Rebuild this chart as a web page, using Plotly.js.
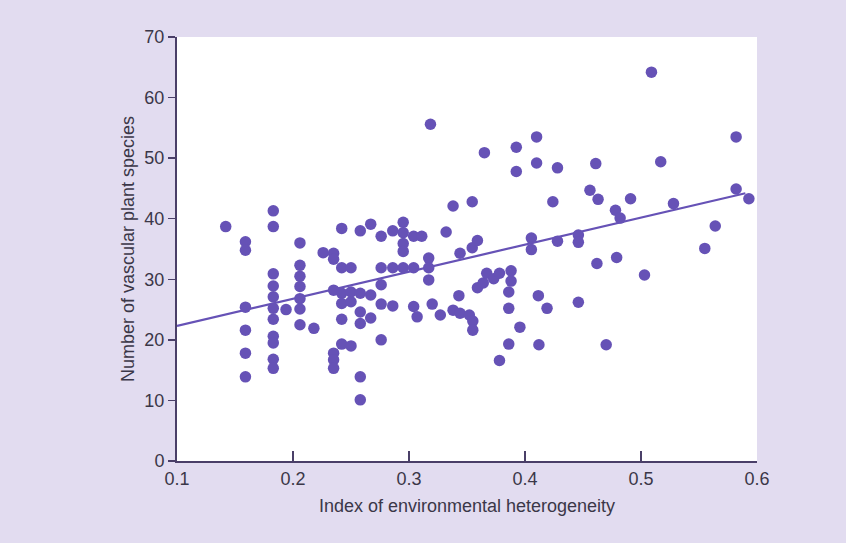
<!DOCTYPE html>
<html>
<head>
<meta charset="utf-8">
<script src="https://cdn.plot.ly/plotly-3.0.1.min.js"></script>
<style>
html,body{margin:0;padding:0;background:#e2dcf0;}
#chart{width:846px;height:543px;}
</style>
</head>
<body>
<div id="chart"></div>
<script>
// Index of environmental heterogeneity (x) and number of vascular plant species (y)
const heterogeneity = [
  0.142,
  0.159,0.159,0.159,0.159,0.159,0.159,
  0.183,0.183,0.183,0.183,0.183,0.183,0.183,0.183,0.183,0.183,0.183,
  0.194,
  0.206,0.206,0.206,0.206,0.206,0.206,0.206,
  0.218,
  0.226,
  0.235,0.235,0.235,0.235,0.235,0.235,
  0.242,0.242,0.242,0.242,0.242,0.242,
  0.250,0.250,0.250,0.250,
  0.258,0.258,0.258,0.258,0.258,0.258,
  0.267,0.267,0.267,
  0.276,0.276,0.276,0.276,0.276,
  0.286,0.286,0.286,
  0.295,0.295,0.295,0.295,0.295,
  0.304,0.304,0.304,
  0.307,
  0.311,
  0.317,0.317,0.317,
  0.3185,
  0.320,
  0.327,
  0.332,
  0.338,0.338,
  0.343,
  0.344,0.344,
  0.352,
  0.3545,0.3545,
  0.355,0.355,
  0.359,0.359,
  0.364,
  0.365,
  0.367,
  0.373,
  0.378,0.378,
  0.388,0.388,
  0.386,0.386,0.386,
  0.3925,0.3925,
  0.3956,
  0.4055,0.4055,
  0.410,0.410,
  0.4115,
  0.412,
  0.419,
  0.424,
  0.428,0.428,
  0.446,0.446,0.446,
  0.456,
  0.461,
  0.462,
  0.463,
  0.470,
  0.478,
  0.479,
  0.482,
  0.491,
  0.503,
  0.509,
  0.517,
  0.528,
  0.555,
  0.564,
  0.582,0.582,
  0.593
];
const species = [
  38.7,
  36.2,34.8,25.4,21.6,17.8,13.9,
  41.3,38.7,30.9,28.9,27.1,25.2,23.4,20.6,19.5,16.8,15.3,
  25.0,
  36.0,32.3,30.5,28.8,26.8,25.1,22.5,
  21.9,
  34.4,
  34.3,33.3,28.2,17.8,16.7,15.3,
  38.4,31.9,27.7,26.0,23.4,19.3,
  31.9,27.9,26.3,19.0,
  38.0,27.7,24.6,22.7,13.9,10.1,
  39.1,27.4,23.6,
  37.1,31.9,29.1,25.9,20.0,
  38.0,31.9,25.6,
  39.4,37.7,35.9,34.6,31.9,
  37.1,31.9,25.5,
  23.8,
  37.1,
  33.5,31.9,29.9,
  55.6,
  25.9,
  24.1,
  37.8,
  42.1,24.9,
  27.3,
  34.3,24.4,
  24.1,
  35.2,42.8,
  23.1,21.6,
  36.4,28.6,
  29.4,
  50.9,
  31.0,
  30.1,
  31.0,16.6,
  31.4,29.7,
  27.9,25.2,19.3,
  51.8,47.8,
  22.1,
  36.8,34.9,
  53.5,49.2,
  27.3,
  19.2,
  25.2,
  42.8,
  48.4,36.3,
  37.3,36.1,26.2,
  44.7,
  49.1,
  32.6,
  43.2,
  19.2,
  41.4,
  33.6,
  40.1,
  43.3,
  30.7,
  64.2,
  49.4,
  42.5,
  35.1,
  38.8,
  53.5,44.9,
  43.3
];
// Fitted regression line end points
const fitX = [0.1, 0.590];
const fitY = [22.3, 44.2];

const xTicks = [0.1, 0.2, 0.3, 0.4, 0.5, 0.6];
const xTickText = ['0.1', '0.2', '0.3', '0.4', '0.5', '0.6'];
const yTicks = [0, 10, 20, 30, 40, 50, 60, 70];

const purple = '#6652b6';
const axisColor = '#4a3f68';
const textColor = '#3b3748';

const traces = [
  {
    x: fitX, y: fitY, type: 'scatter', mode: 'lines',
    line: {color: purple, width: 2.2},
    hoverinfo: 'skip', showlegend: false
  },
  {
    x: heterogeneity, y: species, type: 'scatter', mode: 'markers',
    marker: {color: purple, size: 11.5, line: {width: 0}},
    showlegend: false
  }
];

const layout = {
  width: 846, height: 543,
  paper_bgcolor: '#e2dcf0',
  plot_bgcolor: '#ffffff',
  margin: {l: 177, r: 89, t: 37, b: 82},
  font: {family: 'Liberation Sans, Arial, sans-serif', color: textColor, size: 18},
  xaxis: {
    range: [0.1, 0.6], tickvals: xTicks, ticktext: xTickText,
    showgrid: false, zeroline: false,
    showline: true, linecolor: axisColor, linewidth: 2,
    ticks: 'inside', ticklen: 10, tickwidth: 1.5, tickcolor: axisColor,
    tickfont: {size: 18, color: textColor},
    title: {text: 'Index of environmental heterogeneity', font: {size: 18, color: textColor}, standoff: 12},
    automargin: false, fixedrange: true
  },
  yaxis: {
    range: [0, 70], tickvals: yTicks,
    showgrid: false, zeroline: false,
    showline: true, linecolor: axisColor, linewidth: 2,
    ticks: 'outside', ticklen: 7, tickwidth: 1.5, tickcolor: axisColor,
    tickfont: {size: 18, color: textColor},
    title: {text: 'Number of vascular plant species', font: {size: 18, color: textColor}, standoff: 5},
    automargin: false, fixedrange: true
  }
};

Plotly.newPlot('chart', traces, layout, {displayModeBar: false, staticPlot: true});
</script>
</body>
</html>
